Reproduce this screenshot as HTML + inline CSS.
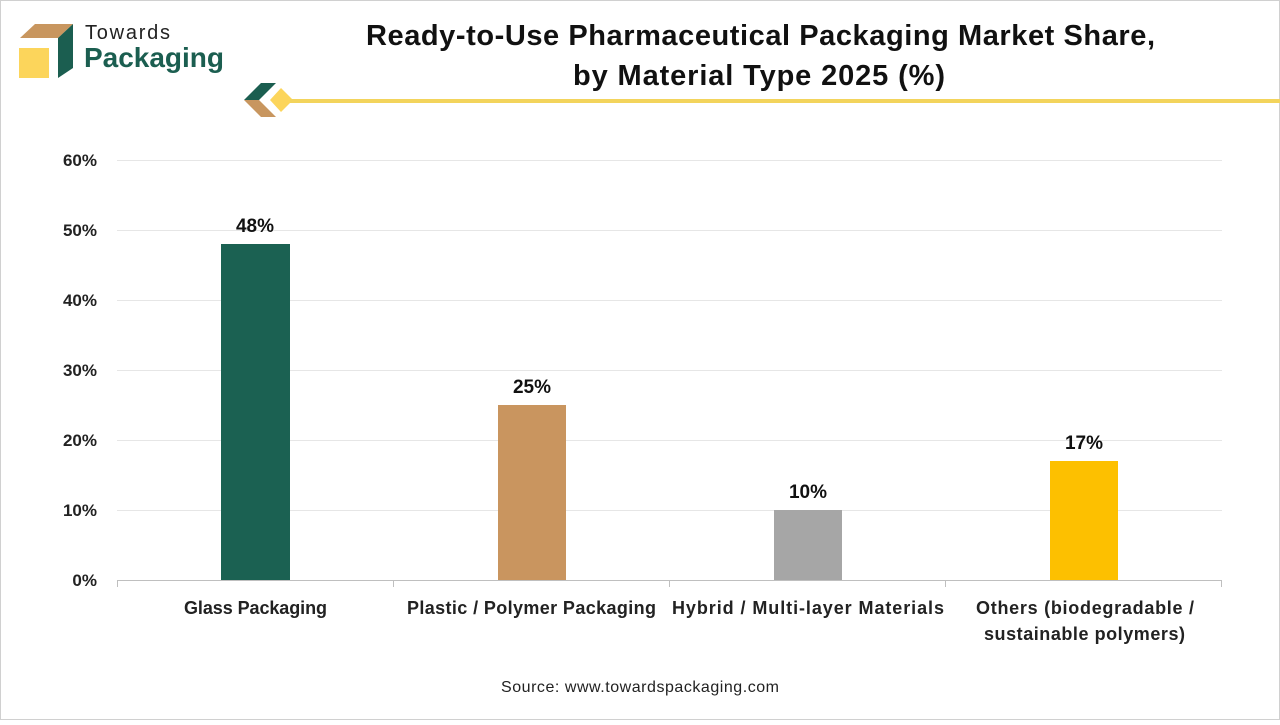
<!DOCTYPE html>
<html><head><style>
body{margin:0;width:1280px;height:720px;overflow:hidden;background:#fff;font-family:"Liberation Sans",sans-serif}
</style></head><body>
<svg width="1280" height="720" xmlns="http://www.w3.org/2000/svg" font-family="Liberation Sans, sans-serif">
<rect x="0.5" y="0.5" width="1279" height="719" fill="#fff" stroke="#d0d0d0"/>
<polygon points="20,38 35,24 73,24 58,38" fill="#c8965f"/>
<rect x="19" y="48" width="30" height="30" fill="#fcd55b"/>
<polygon points="58,38 73,24 73,68 58,78" fill="#1b5e50"/>
<text x="85" y="39" font-size="20" fill="#222" textLength="85">Towards</text>
<text x="84" y="67" font-size="28" font-weight="bold" fill="#1b5e50" textLength="140">Packaging</text>
<polygon points="244,100 261,83 276,83 259,100" fill="#1b5e50"/>
<polygon points="244,100 259,100 276,117 261,117" fill="#c8965f"/>
<polygon points="270,100 281,88 293,100 281,112" fill="#fcd55b"/>
<rect x="290" y="99" width="990" height="4" fill="#f3d45c"/>
<text x="366" y="45" font-size="29" font-weight="bold" fill="#111" textLength="789">Ready-to-Use Pharmaceutical Packaging Market Share,</text>
<text x="573" y="85" font-size="29" font-weight="bold" fill="#111" textLength="372">by Material Type 2025 (%)</text>
<g stroke="#e6e6e6" stroke-width="1">
<line x1="117" x2="1222" y1="160.5" y2="160.5"/><line x1="117" x2="1222" y1="230.5" y2="230.5"/>
<line x1="117" x2="1222" y1="300.5" y2="300.5"/><line x1="117" x2="1222" y1="370.5" y2="370.5"/>
<line x1="117" x2="1222" y1="440.5" y2="440.5"/><line x1="117" x2="1222" y1="510.5" y2="510.5"/>
</g>
<g stroke="#bfbfbf"><line x1="117" x2="1222" y1="580.5" y2="580.5"/>
<line x1="117.5" x2="117.5" y1="580" y2="587"/><line x1="393.5" x2="393.5" y1="580" y2="587"/>
<line x1="669.5" x2="669.5" y1="580" y2="587"/><line x1="945.5" x2="945.5" y1="580" y2="587"/><line x1="1221.5" x2="1221.5" y1="580" y2="587"/></g>
<g font-size="17" font-weight="bold" fill="#222" text-anchor="end">
<text x="97" y="166">60%</text><text x="97" y="236">50%</text><text x="97" y="306">40%</text>
<text x="97" y="376">30%</text><text x="97" y="446">20%</text><text x="97" y="516">10%</text><text x="97" y="586">0%</text></g>
<rect x="221" y="244" width="69" height="336" fill="#1b6152"/>
<rect x="498" y="405" width="68" height="175" fill="#c9955f"/>
<rect x="774" y="510" width="68" height="70" fill="#a6a6a6"/>
<rect x="1050" y="461" width="68" height="119" fill="#fdc000"/>
<g font-size="19" font-weight="bold" fill="#111" text-anchor="middle">
<text x="255" y="232">48%</text><text x="532" y="393">25%</text><text x="808" y="498">10%</text><text x="1084" y="449">17%</text></g>
<g font-size="18" font-weight="bold" fill="#222">
<text x="184" y="614" textLength="143">Glass Packaging</text>
<text x="407" y="614" textLength="249">Plastic / Polymer Packaging</text>
<text x="672" y="614" textLength="272">Hybrid / Multi-layer Materials</text>
<text x="976" y="614" textLength="218">Others (biodegradable /</text>
<text x="984" y="640" textLength="201">sustainable polymers)</text></g>
<text x="501" y="692" font-size="16" fill="#222" textLength="278">Source: www.towardspackaging.com</text>
</svg>
</body></html>
